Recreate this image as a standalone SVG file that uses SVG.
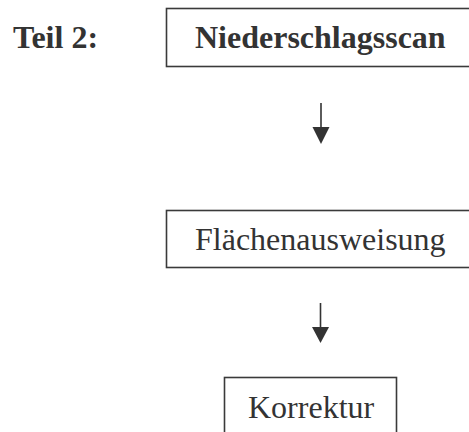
<svg xmlns="http://www.w3.org/2000/svg" width="469" height="432" viewBox="0 0 469 432">
  <style>
    .box { fill: #ffffff; stroke: #3a3a3a; stroke-width: 1.6; }
    .label { font-family: "Liberation Serif", "Times New Roman", serif; font-size: 32px; fill: #333333; }
    .bold { font-weight: bold; }
    .line { stroke: #333333; stroke-width: 1.6; fill: none; }
    .head { fill: #333333; }
  </style>
  <rect width="469" height="432" fill="#ffffff"/>

  <text class="label bold" x="13" y="48">Teil 2:</text>

  <g id="niederschlagsscan">
    <rect class="box" x="166.5" y="8.5" width="306" height="58"/>
    <text class="label bold" x="195" y="48">Niederschlagsscan</text>
  </g>

  <g id="flaechenausweisung">
    <rect class="box" x="166.5" y="210.5" width="306" height="57"/>
    <text class="label" x="195" y="250">Flächenausweisung</text>
  </g>

  <g id="korrektur">
    <rect class="box" x="224.5" y="377.5" width="172" height="70"/>
    <text class="label" x="248" y="418">Korrektur</text>
  </g>

  <g id="connectors">
    <line class="line" x1="321" y1="103" x2="321" y2="129"/>
    <polygon class="head" points="312.5,127 329.5,127 321,144"/>
    <line class="line" x1="320.5" y1="303" x2="320.5" y2="329"/>
    <polygon class="head" points="312,327 329,327 320.5,343"/>
  </g>
</svg>
